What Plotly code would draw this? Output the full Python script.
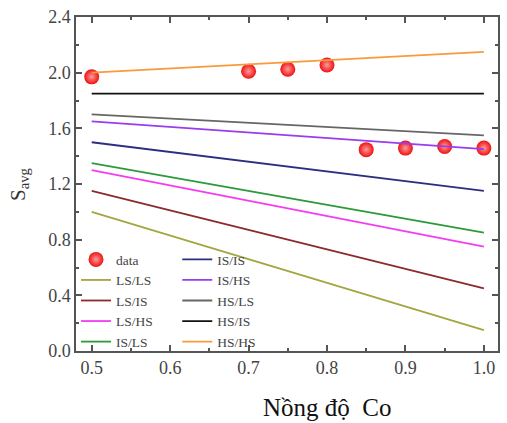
import plotly.graph_objects as go

x_data = [0.5, 0.7, 0.75, 0.8, 0.85, 0.9, 0.95, 1.0]
y_data = [1.97, 2.01, 2.025, 2.055, 1.447, 1.458, 1.47, 1.458]

x_line = [0.5, 1.0]
series_names = ["LS/LS", "LS/IS", "LS/HS", "IS/LS", "IS/IS", "IS/HS", "HS/LS", "HS/IS", "HS/HS"]
series_start = [1.00, 1.15, 1.30, 1.35, 1.50, 1.65, 1.70, 1.85, 2.00]
series_end = [0.15, 0.45, 0.75, 0.85, 1.15, 1.45, 1.55, 1.85, 2.15]
series_colors = ["#a3a640", "#8b2b2b", "#f53cf0", "#2c9a3a", "#2b2f80", "#9a3cf0", "#666666", "#111111", "#fb9a3a"]
legend_group = ["legend", "legend", "legend", "legend", "legend2", "legend2", "legend2", "legend2", "legend2"]

FONT = "Liberation Serif"

fig = go.Figure()
fig.add_trace(go.Scatter(
    x=x_data, y=y_data, mode="markers", name="data", legend="legend",
    marker=dict(size=15, color="#ee1111", gradient=dict(type="radial", color="#ff9a9a"),
                line=dict(width=0))))
for name, y0, y1, c, lg in zip(series_names, series_start, series_end, series_colors, legend_group):
    fig.add_trace(go.Scatter(x=x_line, y=[y0, y1], mode="lines", name=name, legend=lg,
                             line=dict(color=c, width=1.8)))

axis_common = dict(showline=True, linecolor="#555555", linewidth=1.5, mirror="allticks",
                   ticks="inside", tickcolor="#555555", ticklen=6, tickwidth=1.5,
                   showgrid=False, zeroline=False,
                   tickfont=dict(family=FONT, size=18, color="#444444"))

fig.update_layout(
    width=507, height=423,
    margin=dict(l=76, r=7, t=13, b=72),
    plot_bgcolor="white", paper_bgcolor="white",
    font=dict(family=FONT, color="#444444"),
    showlegend=True,
    xaxis=dict(range=[0.48, 1.018], tickvals=[0.5, 0.6, 0.7, 0.8, 0.9, 1.0],
               ticktext=["0.5", "0.6", "0.7", "0.8", "0.9", "1.0"], ticklabelstandoff=0,
               minor=dict(tickvals=[0.55, 0.65, 0.75, 0.85, 0.95], ticks="inside", ticklen=3,
                          tickcolor="#555555", tickwidth=1.5),
               **axis_common),
    yaxis=dict(range=[0, 2.4], tickvals=[0, 0.4, 0.8, 1.2, 1.6, 2.0, 2.4],
               ticktext=["0.0", "0.4", "0.8", "1.2", "1.6", "2.0", "2.4"],
               minor=dict(tickvals=[0.2, 0.6, 1.0, 1.4, 1.8, 2.2], ticks="inside", ticklen=3,
                          tickcolor="#555555", tickwidth=1.5),
               **axis_common),
    legend=dict(x=0.0, y=0.32, xanchor="left", yanchor="top", bgcolor="rgba(0,0,0,0)",
                font=dict(family=FONT, size=13.5, color="#444444"), tracegroupgap=0,
                itemwidth=30),
    legend2=dict(x=0.24, y=0.32, xanchor="left", yanchor="top", bgcolor="rgba(0,0,0,0)",
                 font=dict(family=FONT, size=13.5, color="#444444"), tracegroupgap=0,
                 itemwidth=30),
    annotations=[
        dict(text="S<sub>avg</sub>", xref="paper", yref="paper", x=-0.135, y=0.5,
             xanchor="center", yanchor="middle", textangle=-90, showarrow=False,
             font=dict(family=FONT, size=21, color="#333333")),
        dict(text="Nồng độ  Co", xref="paper", yref="paper", x=0.595, y=-0.17,
             xanchor="center", yanchor="middle", showarrow=False,
             font=dict(family=FONT, size=25, color="#111111")),
    ],
)

fig.write_html("out.html")
